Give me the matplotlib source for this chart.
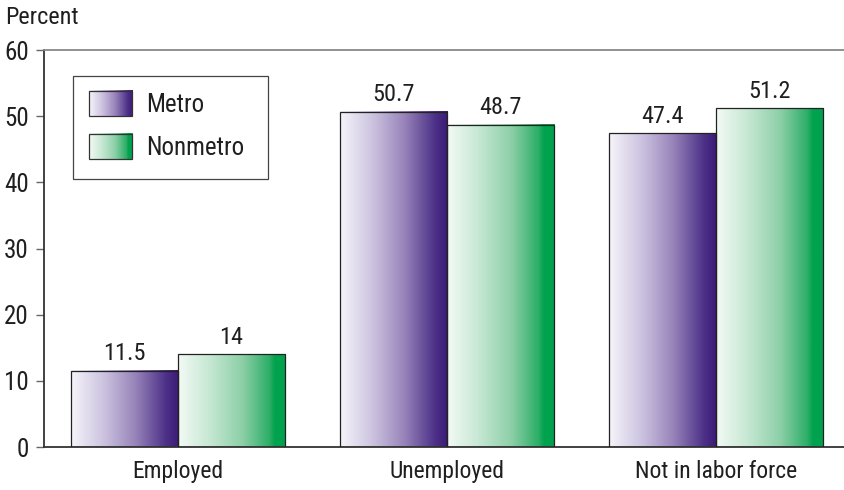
import numpy as np
import matplotlib
matplotlib.use("Agg")
import matplotlib.pyplot as plt
from matplotlib.colors import LinearSegmentedColormap
from matplotlib.legend_handler import HandlerBase
from matplotlib.image import BboxImage
from matplotlib.transforms import Bbox, TransformedBbox
from matplotlib.patches import Rectangle

plt.rcParams['font.family'] = ['Roboto Condensed', 'DejaVu Sans']

categories = ["Employed", "Unemployed", "Not in labor force"]
metro = [11.5, 50.7, 47.4]
nonmetro = [14.0, 48.7, 51.2]
metro_labels = ["11.5", "50.7", "47.4"]
nonmetro_labels = ["14", "48.7", "51.2"]
series_names = ["Metro", "Nonmetro"]
yticks = [0, 10, 20, 30, 40, 50, 60]

text_color = "#1f1f1f"
fs_tick = 18
fs_cat = 17
fs_val = 17.5
fs_leg = 18

cmap_metro = LinearSegmentedColormap.from_list(
    "metro", [(0.0, "#f6f5fa"), (0.3, "#cdc3e0"), (0.6, "#9783b9"),
              (0.88, "#4d3188"), (1.0, "#3a1a76")])
cmap_nonmetro = LinearSegmentedColormap.from_list(
    "nonmetro", [(0.0, "#f3faf5"), (0.3, "#c5e7d2"), (0.6, "#8ccfa7"),
                 (0.85, "#2cae67"), (0.9, "#00a24d"), (1.0, "#00a24d")])

grad = np.linspace(0, 1, 256).reshape(1, -1)


class GradientHandler(HandlerBase):
    def create_artists(self, legend, orig_handle, xdescent, ydescent,
                       width, height, fontsize, trans):
        bb = Bbox.from_bounds(-xdescent, -ydescent, width, height)
        img = BboxImage(TransformedBbox(bb, trans), cmap=orig_handle.cmap,
                        interpolation="bilinear", norm=plt.Normalize(0, 1))
        img.set_data(grad)
        edge = Rectangle((-xdescent, -ydescent), width, height, fill=False,
                         edgecolor="#333333", linewidth=0.9, transform=trans)
        return [img, edge]


class GradientProxy:
    def __init__(self, cmap):
        self.cmap = cmap


fig = plt.figure(figsize=(8.45, 4.9), dpi=100)
ax = fig.add_axes([44 / 845, 43 / 490, 801 / 845, 397 / 490])

x = np.arange(len(categories))
width = 0.398

for offset, vals, labels, cmap in [(-width / 2, metro, metro_labels, cmap_metro),
                                   (width / 2, nonmetro, nonmetro_labels, cmap_nonmetro)]:
    bars = ax.bar(x + offset, vals, width, facecolor="none",
                  edgecolor="#222222", linewidth=0.9, zorder=3)
    for b, lab in zip(bars, labels):
        x0, w, h = b.get_x(), b.get_width(), b.get_height()
        ax.imshow(grad, cmap=cmap, aspect="auto", extent=(x0, x0 + w, 0, h),
                  interpolation="bilinear", zorder=2, vmin=0, vmax=1)
        ax.annotate(lab, (x0 + w / 2, h), xytext=(0, 4),
                    textcoords="offset points", ha="center", va="bottom",
                    fontsize=fs_val, color=text_color)

ax.set_xlim(-0.498, 2.48)
ax.set_ylim(0, 60)
ax.set_aspect("auto")

ax.set_yticks(yticks)
ax.set_yticklabels([str(t) for t in yticks])
ax.set_xticks(x)
ax.set_xticklabels(categories)
ax.tick_params(axis="y", length=6, width=1, color="#666666", labelsize=fs_tick,
               labelcolor=text_color, pad=5)
ax.tick_params(axis="x", length=0, labelsize=fs_cat, labelcolor=text_color, pad=9)

ax.spines["right"].set_visible(False)
ax.spines["top"].set_color("#888888")
ax.spines["top"].set_linewidth(1.3)
for s in ["left", "bottom"]:
    ax.spines[s].set_color("#333333")
    ax.spines[s].set_linewidth(1.3)

fig.text(5 / 845, 1 - 17 / 490, "Percent", fontsize=17.5, color=text_color,
         va="center", ha="left")

# legend box outline
ax_w, ax_h = 801, 397
frame = Rectangle(((73 - 44) / ax_w, 1 - (179 - 50) / ax_h),
                  (268 - 73) / ax_w, (179 - 76) / ax_h,
                  transform=ax.transAxes, facecolor="white",
                  edgecolor="#444444", linewidth=0.9, zorder=4)
ax.add_patch(frame)

proxies = [GradientProxy(cmap_metro), GradientProxy(cmap_nonmetro)]
leg = ax.legend(proxies, series_names,
                handler_map={GradientProxy: GradientHandler()},
                loc="upper left",
                bbox_to_anchor=((89 - 44) / ax_w, 1 - (91 - 50) / ax_h),
                borderaxespad=0, borderpad=0, fontsize=fs_leg,
                handlelength=1.72, handleheight=1.17, handletextpad=0.58,
                labelspacing=0.68, frameon=False)
leg.set_zorder(5)
for t in leg.get_texts():
    t.set_color(text_color)

fig.savefig("out.png", dpi=100)
